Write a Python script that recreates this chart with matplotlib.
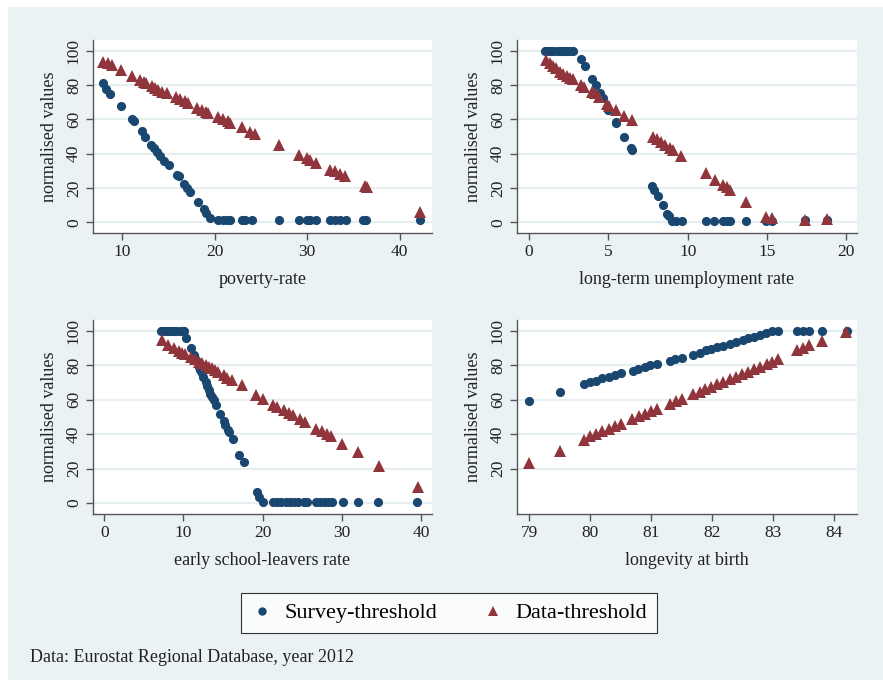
import matplotlib
matplotlib.use("Agg")
import matplotlib.pyplot as plt
from matplotlib.lines import Line2D
from matplotlib.patches import Rectangle

plt.rcParams['font.family'] = ['Liberation Serif', 'DejaVu Serif']

NAVY = '#1a476f'
MAROON = '#90353b'
BG = '#eaf2f3'
GRID = '#e6eef0'

# ---------- Panel 1: poverty-rate ----------
pov_s_x = [7.9, 8.2, 8.7, 9.9, 11.0, 11.3, 12.1, 12.45, 13.1, 13.4, 13.7, 14.1, 14.5, 15.0,
           15.9, 16.1, 16.7, 17.0, 17.3, 18.2, 18.8, 19.1, 19.5,
           20.4, 20.9, 21.3, 21.6, 22.9, 23.3, 24.0, 27.0, 29.1, 30.0, 30.3, 31.0,
           32.5, 33.0, 33.6, 34.2, 36.0, 36.4, 42.2]
pov_s_y = [81, 77.5, 74.8, 67.8, 60, 59, 53.3, 50, 45.2, 43.2, 40.7, 38.4, 35.9, 33.5,
           27.7, 26.7, 22.5, 20, 17.4, 11.6, 7.8, 5.4, 2.5,
           1, 1, 1, 1, 1, 1, 1, 1, 1, 1, 1, 1, 1, 1, 1, 1, 1, 1, 1]
pov_d_x = [7.9, 8.5, 8.85, 9.9, 11.0, 11.9, 12.3, 12.6, 13.2, 13.5, 13.9, 14.3, 14.8,
           15.8, 16.2, 16.8, 17.1, 18.1, 18.6, 19.0, 19.3, 20.4, 20.9, 21.4, 21.7,
           22.9, 23.8, 24.3, 27.0, 29.1, 30.0, 30.3, 31.0, 32.5, 33.0, 33.6, 34.1,
           36.2, 36.5, 42.2]
pov_d_y = [93.2, 92.6, 91.7, 88.8, 85.3, 82.9, 82, 81, 79.5, 78.1, 77.1, 76.2, 75.6,
           73.3, 71.7, 70.9, 69.8, 66.5, 65.5, 64.5, 64, 61.2, 60, 59.3, 58.1,
           55.4, 52.9, 51.6, 45.2, 39.3, 37.4, 36, 34.5, 30.6, 29.7, 28.3, 27.1,
           20.9, 20.3, 5.8]

# ---------- Panel 2: long-term unemployment rate ----------
ltu_s_x = [1.0, 1.2, 1.4, 1.6, 1.8, 2.0, 2.2, 2.4, 2.6, 2.8, 3.3, 3.5, 3.94, 4.19, 4.5, 4.63,
           5.0, 5.47, 5.5, 6.0, 6.42, 6.5, 7.73, 7.87, 8.15, 8.42, 8.72, 8.84,
           9.03, 9.24, 9.62, 11.16, 11.66, 12.25, 12.46, 12.67, 13.7, 14.95, 15.3, 17.4, 18.8]
ltu_s_y = [100, 100, 100, 100, 100, 100, 100, 100, 100, 100, 95, 91, 83.3, 80, 75.2, 72.3,
           65.5, 58.3, 57.8, 50, 43.2, 41.9, 20.9, 18.6, 15.1, 10.3, 5, 3.5,
           0.8, 0.8, 0.8, 0.8, 0.8, 0.8, 0.8, 0.8, 0.8, 0.8, 0.8, 1.2, 1.2]
ltu_d_x = [1.09, 1.3, 1.5, 1.7, 1.94, 2.15, 2.36, 2.57, 2.78, 3.3, 3.45, 3.94, 4.15, 4.42,
           4.9, 5.03, 5.47, 5.98, 6.46, 7.79, 8.04, 8.29, 8.57, 8.88, 9.09, 9.58,
           11.16, 11.7, 12.2, 12.46, 12.67, 13.68, 14.95, 15.3, 17.4, 18.8]
ltu_d_y = [94.6, 92.6, 91, 89.7, 87.8, 86.4, 85.3, 84.3, 83.3, 80, 79, 76.2, 75.2, 73.3,
           69, 67.8, 65.5, 62, 59.7, 50, 48.4, 46.5, 45.2, 43.2, 41.9, 38.8,
           28.7, 24.8, 21.9, 20.3, 19, 11.6, 3.1, 2.3, 1.5, 1.9]

# ---------- Panel 3: early school-leavers rate ----------
esl_s_x = [7.1, 7.5, 7.9, 8.3, 8.7, 9.1, 9.5, 9.9, 10.1, 10.3, 11.0, 11.3, 11.6, 11.9, 12.1,
           12.3, 12.5, 12.8, 13.0, 13.2, 13.4, 13.6, 13.8, 14.1, 14.65, 15.1, 15.3, 15.6,
           15.8, 16.3, 17.05, 17.6, 19.3, 19.5, 20.0,
           21.3, 21.8, 22.3, 22.9, 23.4, 24.0, 24.5, 25.2, 25.6, 26.8, 27.3, 27.8, 28.3,
           28.8, 30.1, 32.1, 34.6, 39.5]
esl_s_y = [100, 100, 100, 100, 100, 100, 100, 100, 100, 96, 90, 86, 83, 79.2, 77.2,
           75.3, 73.3, 70.4, 67.9, 65.6, 63.6, 61.7, 59.7, 57.2, 52, 47.5, 45.5, 42.6,
           41.2, 37, 28, 24.1, 6.6, 3.3, 0.8,
           0.8, 0.8, 0.8, 0.8, 0.8, 0.8, 0.8, 0.8, 0.8, 0.8, 0.8, 0.8, 0.8,
           0.8, 0.8, 0.8, 0.8, 0.8]
esl_d_x = [7.3, 8.1, 8.76, 9.4, 9.8, 10.2, 10.9, 11.4, 11.9, 12.3, 12.8, 13.2, 13.6, 14.0,
           14.4, 15.1, 15.5, 16.1, 17.4, 19.2, 20.1, 21.3, 21.8, 22.7, 23.3, 23.9, 24.7,
           25.4, 26.8, 27.5, 28.1, 28.6, 30.0, 32.1, 34.7, 39.6]
esl_d_y = [94.7, 91.8, 90.3, 88.3, 87.4, 86.4, 85, 83.7, 82.1, 81.1, 80.2, 79.2, 78.2, 77.2,
           75.9, 74.3, 72.8, 71.4, 68.5, 62.6, 60.7, 57.2, 55.8, 53.9, 52.5, 51, 48.6,
           47.1, 43.2, 41.6, 40.3, 38.9, 34.4, 29.6, 21.8, 9.1]

# ---------- Panel 4: longevity at birth ----------
lon_s_x = [79.0, 79.5, 79.9, 80.0, 80.09, 80.2, 80.3, 80.4, 80.5, 80.7, 80.79, 80.89, 80.98,
           81.09, 81.3, 81.39, 81.5, 81.69, 81.79, 81.89, 81.98, 82.08, 82.18, 82.29,
           82.39, 82.5, 82.59, 82.69, 82.78, 82.88, 82.98, 83.08, 83.38, 83.48, 83.59,
           83.79, 84.2]
lon_s_y = [59.4, 64.4, 69.1, 70.2, 71, 72.6, 73.5, 74.5, 75.5, 76.8, 78, 78.9, 79.9,
           80.7, 82.6, 83.8, 84.5, 86.1, 87.4, 88.8, 89.6, 90.5, 91.3, 92.3,
           93.4, 94.6, 95.6, 96.5, 97.7, 98.8, 100, 100, 100, 100, 100, 100, 100]
lon_d_x = [79.0, 79.5, 79.9, 80.0, 80.1, 80.2, 80.3, 80.4, 80.5, 80.69, 80.8, 80.9, 81.0,
           81.1, 81.3, 81.4, 81.5, 81.69, 81.79, 81.88, 81.98, 82.08, 82.18, 82.29,
           82.39, 82.48, 82.59, 82.69, 82.78, 82.89, 82.98, 83.08, 83.38, 83.49, 83.59,
           83.79, 84.19]
lon_d_y = [23.3, 30.4, 36.8, 38.7, 40.1, 41.6, 43.2, 44.5, 45.9, 49, 50.3, 51.7, 53.2,
           54.6, 57.5, 59, 60.6, 63.5, 64.8, 66.4, 67.7, 69.1, 70.6, 72.2,
           73.5, 74.9, 76.4, 78, 79.3, 80.9, 82.2, 83.8, 89, 90, 91.5, 94.2, 99.6]

x_labels = ["poverty-rate", "long-term unemployment rate",
            "early school-leavers rate", "longevity at birth"]
x_ticks = [[10, 20, 30, 40], [0, 5, 10, 15, 20], [0, 10, 20, 30, 40], [79, 80, 81, 82, 83, 84]]
y_ticks = [[0, 20, 40, 60, 80, 100]] * 3 + [[20, 40, 60, 80, 100]]
xlims = [(6.83, 43.5), (-0.76, 20.67), (-1.43, 41.4), (78.80, 84.37)]
legend_labels = ["Survey-threshold", "Data-threshold"]
caption = "Data: Eurostat Regional Database, year 2012"

W, H = 883, 680
fig = plt.figure(figsize=(W / 100, H / 100), dpi=100)
fig.patch.set_facecolor(BG)
# thin white margin at the top and left edge
fig.add_artist(Rectangle((0, 1 - 7 / H), 1, 7 / H, transform=fig.transFigure,
                         facecolor='white', edgecolor='none', zorder=0))
fig.add_artist(Rectangle((0, 0), 8 / W, 1, transform=fig.transFigure,
                         facecolor='white', edgecolor='none', zorder=0))

boxes = [(93, 40, 432, 233), (517, 40, 857, 233), (93, 320, 432, 514), (517, 320, 857, 514)]
data = [(pov_s_x, pov_s_y, pov_d_x, pov_d_y), (ltu_s_x, ltu_s_y, ltu_d_x, ltu_d_y),
        (esl_s_x, esl_s_y, esl_d_x, esl_d_y), (lon_s_x, lon_s_y, lon_d_x, lon_d_y)]

for i, (l, t, r, b) in enumerate(boxes):
    ax = fig.add_axes([l / W, 1 - b / H, (r - l) / W, (b - t) / H])
    ax.set_facecolor('white')
    sx, sy, dx, dy = data[i]
    ax.plot(sx, sy, 'o', color=NAVY, markersize=6.6, markeredgewidth=0, zorder=3)
    ax.plot(dx, dy, '^', color=MAROON, markersize=8.2, markeredgewidth=0, zorder=3)
    ax.set_xlim(*xlims[i])
    ax.set_ylim(-6.3, 106.3)
    ax.set_xticks(x_ticks[i])
    ax.set_yticks(y_ticks[i])
    ax.set_yticklabels([str(v) for v in y_ticks[i]], rotation=90, va='center')
    for yv in y_ticks[i]:
        ax.axhline(yv, color=GRID, lw=1.6, zorder=1)
    for s in ['top', 'right']:
        ax.spines[s].set_visible(False)
    for s in ['left', 'bottom']:
        ax.spines[s].set_color('#555555')
        ax.spines[s].set_linewidth(1.0)
    ax.tick_params(axis='both', direction='out', length=5, width=1, color='#555555',
                   labelsize=12.5, labelcolor='#222222', pad=3)
    ax.set_xlabel(x_labels[i], fontsize=13, color='#222222', labelpad=8)
    ax.set_ylabel("normalised values", fontsize=13, color='#222222', labelpad=6)

handles = [Line2D([], [], marker='o', ls='', color=NAVY, markersize=6, markeredgewidth=0),
           Line2D([], [], marker='^', ls='', color=MAROON, markersize=7.5, markeredgewidth=0)]
leg = fig.legend(handles, legend_labels, loc='center', bbox_to_anchor=(449 / W, 1 - 613 / H),
                 ncol=2, frameon=True, fancybox=False, fontsize=16, handletextpad=0.5,
                 columnspacing=2.0, borderpad=0.45, handlelength=1.0)
leg.get_frame().set_edgecolor('black')
leg.get_frame().set_linewidth(0.8)
leg.get_frame().set_facecolor('white')

fig.text(30 / W, 1 - 657 / H, caption, fontsize=13, color='#222222', va='center', ha='left')

fig.savefig("out.png", dpi=100, facecolor=BG)
